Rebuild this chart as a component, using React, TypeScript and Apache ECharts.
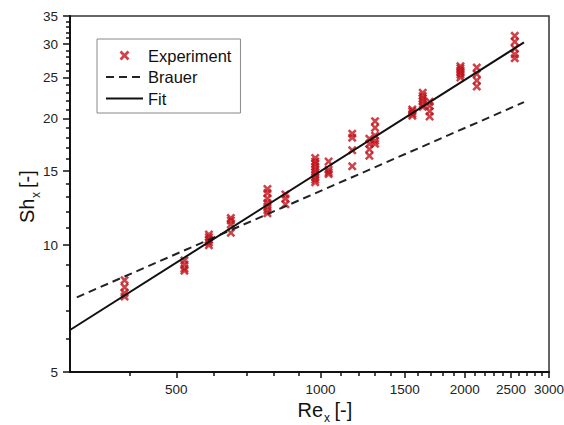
import React, { useEffect, useRef } from 'react';
import * as echarts from 'echarts';

// ---- data ----
const xMajorTicks = [500, 1000, 1500, 2000, 2500, 3000];
const xMinorTicks = [400, 600, 700, 800, 900, 1100, 1200, 1300, 1400, 1600, 1700, 1800, 1900, 2100, 2200, 2300, 2400, 2600, 2700, 2800, 2900];
const yMajorTicks = [5, 10, 15, 20, 25, 30, 35];
const yMinorTicks = [6, 7, 8, 9, 11, 12, 13, 14, 16, 17, 18, 19, 21, 22, 23, 24, 26, 27, 28, 29, 31, 32, 33, 34];

const clusterRe = [390, 520, 585, 650, 775, 845, 975, 1040, 1165, 1265, 1300, 1555, 1635, 1690, 1960, 2120, 2545];
const clusterSh = [
  [8.26, 7.95, 7.7, 7.55],
  [9.2, 9.0, 8.8, 8.7],
  [10.6, 10.45, 10.3, 10.15, 10.0],
  [11.6, 11.45, 11.2, 10.7],
  [13.6, 13.3, 12.9, 12.6, 12.35, 12.1, 11.9],
  [13.2, 12.9, 12.5],
  [16.1, 15.8, 15.6, 15.35, 15.1, 14.9, 14.7, 14.5, 14.3, 14.1],
  [15.8, 15.1, 14.9, 14.75],
  [18.4, 18.0, 16.8, 15.4],
  [17.9, 17.4, 16.9, 16.3],
  [19.7, 19.0, 18.2, 17.7, 17.4],
  [21.0, 20.8, 20.5, 20.3],
  [23.0, 22.6, 22.3, 22.0, 21.6, 21.3],
  [21.9, 21.4, 20.8, 20.2],
  [26.6, 26.3, 26.0, 25.7, 25.4, 25.0],
  [26.4, 25.5, 24.6, 23.8],
  [31.4, 30.4, 29.3, 28.4, 27.8],
];

const brauerRe = [310, 2660];
const brauerSh = [7.52, 21.85];
const fitRe = [300, 2660];
const fitSh = [6.29, 30.3];

const X_MIN = 300;
const X_MAX = 3000;
const Y_MIN = 5;
const Y_MAX = 35;

// ---- styles ----
const FONT = "'Liberation Sans', Arial, Helvetica, sans-serif";
const RED = '#c0141c';
const CROSS = 'path://M0,2L2,0L5,3L8,0L10,2L7,5L10,8L8,10L5,7L2,10L0,8L3,5Z';

export default function App() {
  const ref = useRef<HTMLDivElement>(null);

  useEffect(() => {
    if (!ref.current) return;
    const chart = echarts.init(ref.current, null, { renderer: 'svg' });

    const expData: number[][] = [];
    clusterRe.forEach((re, i) => {
      clusterSh[i].forEach((sh) => expData.push([re, sh]));
    });
    const brauerData = brauerRe.map((re, i) => [re, brauerSh[i]]);
    const fitData = fitRe.map((re, i) => [re, fitSh[i]]);

    const labelFmt = (v: number) => String(Math.round(v));
    const txt = (text: string, x: number, y: number, size: number) => ({
      type: 'text',
      x,
      y,
      style: {
        text,
        fill: '#111',
        font: `${size}px ${FONT}`,
        textAlign: 'left',
        align: 'left',
        textVerticalAlign: 'middle',
        verticalAlign: 'middle',
      },
    });

    const option: any = {
      animation: false,
      backgroundColor: '#ffffff',
      grid: {
        left: 70,
        right: 15,
        top: 16,
        bottom: 53,
        show: true,
        borderColor: '#333',
        borderWidth: 1.5,
        backgroundColor: 'transparent',
        containLabel: false,
        outerBoundsMode: 'none',
      },
      xAxis: [
        {
          type: 'log',
          logBase: 10,
          min: X_MIN,
          max: X_MAX,
          position: 'bottom',
          axisLine: { show: true, onZero: false, lineStyle: { color: '#111', width: 2 } },
          axisTick: { show: true, inside: false, length: 6, customValues: xMajorTicks, lineStyle: { color: '#111', width: 1.5 } },
          axisLabel: { show: true, customValues: xMajorTicks, formatter: labelFmt, margin: 10, fontSize: 13.5, color: '#222', fontFamily: FONT },
          splitLine: { show: false },
        },
        {
          type: 'log',
          logBase: 10,
          min: X_MIN,
          max: X_MAX,
          position: 'bottom',
          axisLine: { show: false },
          axisTick: { show: true, inside: false, length: 4, customValues: xMinorTicks, lineStyle: { color: '#111', width: 1.5 } },
          axisLabel: { show: false },
          splitLine: { show: false },
        },
      ],
      yAxis: [
        {
          type: 'log',
          logBase: 10,
          min: Y_MIN,
          max: Y_MAX,
          position: 'left',
          axisLine: { show: true, onZero: false, lineStyle: { color: '#111', width: 2 } },
          axisTick: { show: true, inside: false, length: 7, customValues: yMajorTicks, lineStyle: { color: '#111', width: 1.5 } },
          axisLabel: { show: true, customValues: yMajorTicks, formatter: labelFmt, margin: 12, fontSize: 13.5, color: '#222', fontFamily: FONT },
          splitLine: { show: false },
        },
        {
          type: 'log',
          logBase: 10,
          min: Y_MIN,
          max: Y_MAX,
          position: 'left',
          axisLine: { show: false },
          axisTick: { show: true, inside: false, length: 4, customValues: yMinorTicks, lineStyle: { color: '#111', width: 1.5 } },
          axisLabel: { show: false },
          splitLine: { show: false },
        },
      ],
      legend: {
        data: [
          { name: 'Experiment', icon: CROSS },
          { name: 'Brauer', itemStyle: { opacity: 0 } },
          { name: 'Fit', itemStyle: { opacity: 0 } },
        ],
        orient: 'vertical',
        left: 97,
        top: 39,
        padding: [8, 9, 6, 8],
        itemGap: 4.5,
        itemWidth: 37,
        itemHeight: 10,
        borderColor: '#888',
        borderWidth: 1,
        backgroundColor: '#fff',
        selectedMode: false,
        textStyle: { fontSize: 16.5, color: '#111', fontFamily: FONT },
      },
      graphic: [
        txt('Re', 297.5, 410, 20),
        txt('x', 324, 417.5, 12),
        txt('[-]', 334.5, 410, 20),
        {
          type: 'group',
          x: 27,
          y: 196,
          rotation: Math.PI / 2,
          children: [txt('Sh', -27, 0, 20), txt('x', -2, 9, 12), txt('[-]', 8, 0, 20)],
        },
      ],
      series: [
        {
          name: 'Experiment',
          type: 'scatter',
          xAxisIndex: 0,
          yAxisIndex: 0,
          data: expData,
          symbol: CROSS,
          symbolSize: 9,
          itemStyle: { color: RED },
          z: 2,
        },
        {
          name: 'Brauer',
          type: 'line',
          xAxisIndex: 0,
          yAxisIndex: 0,
          data: brauerData,
          symbol: 'none',
          showSymbol: false,
          lineStyle: { color: '#222', width: 2, type: [8, 5] },
          itemStyle: { color: '#222' },
          z: 3,
        },
        {
          name: 'Fit',
          type: 'line',
          xAxisIndex: 0,
          yAxisIndex: 0,
          data: fitData,
          symbol: 'none',
          showSymbol: false,
          lineStyle: { color: '#111', width: 2 },
          itemStyle: { color: '#111' },
          z: 3,
        },
      ],
    };

    chart.setOption(option);
    return () => {
      chart.dispose();
    };
  }, []);

  return (
    <div
      ref={ref}
      style={{ position: 'fixed', left: 0, top: 0, width: 564, height: 425, background: '#fff' }}
    />
  );
}
